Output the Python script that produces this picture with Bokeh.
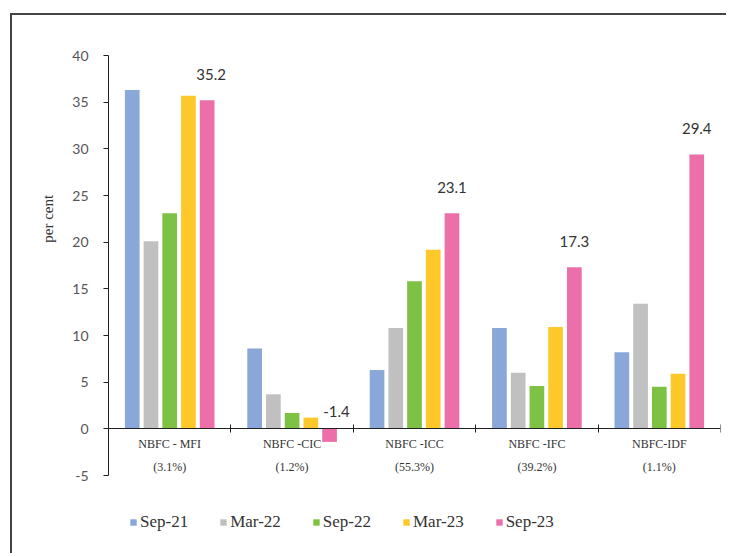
import math
from bokeh.plotting import figure
from bokeh.models import (Range1d, LinearAxis, FixedTicker, ColumnDataSource,
                          Legend, LegendItem)
from bokeh.core.properties import value
from bokeh.embed import file_html
from bokeh.resources import INLINE

# ---- data ----
categories = ["NBFC - MFI", "NBFC -CIC", "NBFC -ICC", "NBFC -IFC", "NBFC-IDF"]
shares = ["(3.1%)", "(1.2%)", "(55.3%)", "(39.2%)", "(1.1%)"]
series_names = ["Sep-21", "Mar-22", "Sep-22", "Mar-23", "Sep-23"]
sep21 = [36.3, 8.6, 6.3, 10.8, 8.2]
mar22 = [20.1, 3.7, 10.8, 6.0, 13.4]
sep22 = [23.1, 1.7, 15.8, 4.6, 4.5]
mar23 = [35.7, 1.2, 19.2, 10.9, 5.9]
sep23 = [35.2, -1.4, 23.1, 17.3, 29.4]
y_ticks = [-5, 0, 5, 10, 15, 20, 25, 30, 35, 40]
y_title = "per cent"

series = [sep21, mar22, sep22, mar23, sep23]
colors = ["#8AA7DA", "#C0C0C0", "#7DC245", "#FFC82A", "#EC6FAA"]

n = len(categories)
ymin, ymax = y_ticks[0], y_ticks[-1]
# frame geometry (px): plot area for 0..n spans 612 px, -5..40 spans 420 px
px_x = 612 / n
px_y = 420 / (ymax - ymin)
left_pad = 76      # px from frame left to x=0
top_pad = 35       # px from frame top to y=40
bottom_pad = 70    # px from y=-5 to frame bottom

p = figure(width=716, height=540, output_backend="svg", toolbar_location=None,
           x_range=Range1d(-left_pad / px_x, n),
           y_range=Range1d(ymin - bottom_pad / px_y, ymax + top_pad / px_y),
           min_border_left=20, min_border_right=8, min_border_top=5,
           min_border_bottom=10, x_axis_type=None, y_axis_type=None)
p.outline_line_color = None
p.grid.visible = False
p.styles = {"margin-left": "10px", "margin-top": "13px",
            "border-left": "2px solid #444", "border-top": "2px solid #444"}

pitch = 0.153
bw = 0.12
renderers = []
for j, (name, vals, col) in enumerate(zip(series_names, series, colors)):
    xs = [i + 0.5 + (j - 2) * pitch for i in range(n)]
    src = ColumnDataSource(dict(x=xs, top=vals))
    r = p.vbar(x="x", top="top", bottom=0, width=bw, source=src,
               fill_color=col, line_color=None)
    renderers.append((name, r))

# data labels on last series
lab_x = [i + 0.5 + 2 * pitch for i in range(n)]
lab_y = [max(v, 0) for v in sep23]
lab_off = [-26 if v >= 0 else -17 for v in sep23]
lab_xo = [4 if i == 0 else (7 if v < 0 else 0) for i, v in enumerate(sep23)]
lab_t = [f"{v:.1f}" for v in sep23]
p.text(x=lab_x, y=lab_y, text=lab_t, y_offset=lab_off, x_offset=lab_xo,
       text_align="center", text_baseline="middle",
       text_font=value("Lato"), text_font_size="15px", text_color="#333333")

# y axis (line + ticks), placed at x=0
yax = LinearAxis(ticker=FixedTicker(ticks=y_ticks), fixed_location=0,
                 bounds=(ymin, ymax))
yax.axis_line_color = "#222222"
yax.major_tick_line_color = "#222222"
yax.major_tick_out = 5
yax.major_tick_in = 0
yax.minor_tick_line_color = None
yax.major_label_text_alpha = 0
yax.major_label_text_font_size = "1px"
yax.major_label_standoff = 0
p.add_layout(yax, "left")

# y tick labels
p.text(x=[0] * len(y_ticks), y=y_ticks, text=[str(t) for t in y_ticks],
       x_offset=-20, text_align="right", text_baseline="middle",
       text_font=value("Lato"), text_font_size="14px", text_color="#555555")

# x axis at zero with boundary ticks
xax = LinearAxis(ticker=FixedTicker(ticks=list(range(n + 1))),
                 fixed_location=0, bounds=(0, n))
xax.axis_line_color = "#222222"
xax.major_tick_line_color = "#222222"
xax.major_tick_in = 4
xax.major_tick_out = 4
xax.minor_tick_line_color = None
xax.major_label_text_alpha = 0
xax.major_label_text_font_size = "1px"
xax.major_label_standoff = 0
p.add_layout(xax, "below")

# category labels
cx = [i + 0.5 for i in range(n)]
p.text(x=cx, y=[0] * n, text=categories, y_offset=15,
       text_align="center", text_baseline="middle",
       text_font=value("Liberation Serif"), text_font_size="12px",
       text_color="#333333")
p.text(x=cx, y=[0] * n, text=shares, y_offset=38,
       text_align="center", text_baseline="middle",
       text_font=value("Liberation Serif"), text_font_size="12px",
       text_color="#333333")

# y axis title
p.text(x=[-61 / px_x], y=[22.5], text=[y_title], angle=math.pi / 2,
       text_align="center", text_baseline="middle",
       text_font=value("Liberation Serif"), text_font_size="15px",
       text_color="#333333")

legend = Legend(items=[LegendItem(label=nm, renderers=[r]) for nm, r in renderers],
                orientation="horizontal", location=(97, 13),
                glyph_width=8, glyph_height=8, label_standoff=3, spacing=31,
                padding=0, margin=0, border_line_color=None,
                background_fill_alpha=0,
                label_text_font="Liberation Serif", label_text_font_size="17px",
                label_text_color="#333333")
p.add_layout(legend, "center")

open("out.html", "w").write(file_html(p, INLINE))
